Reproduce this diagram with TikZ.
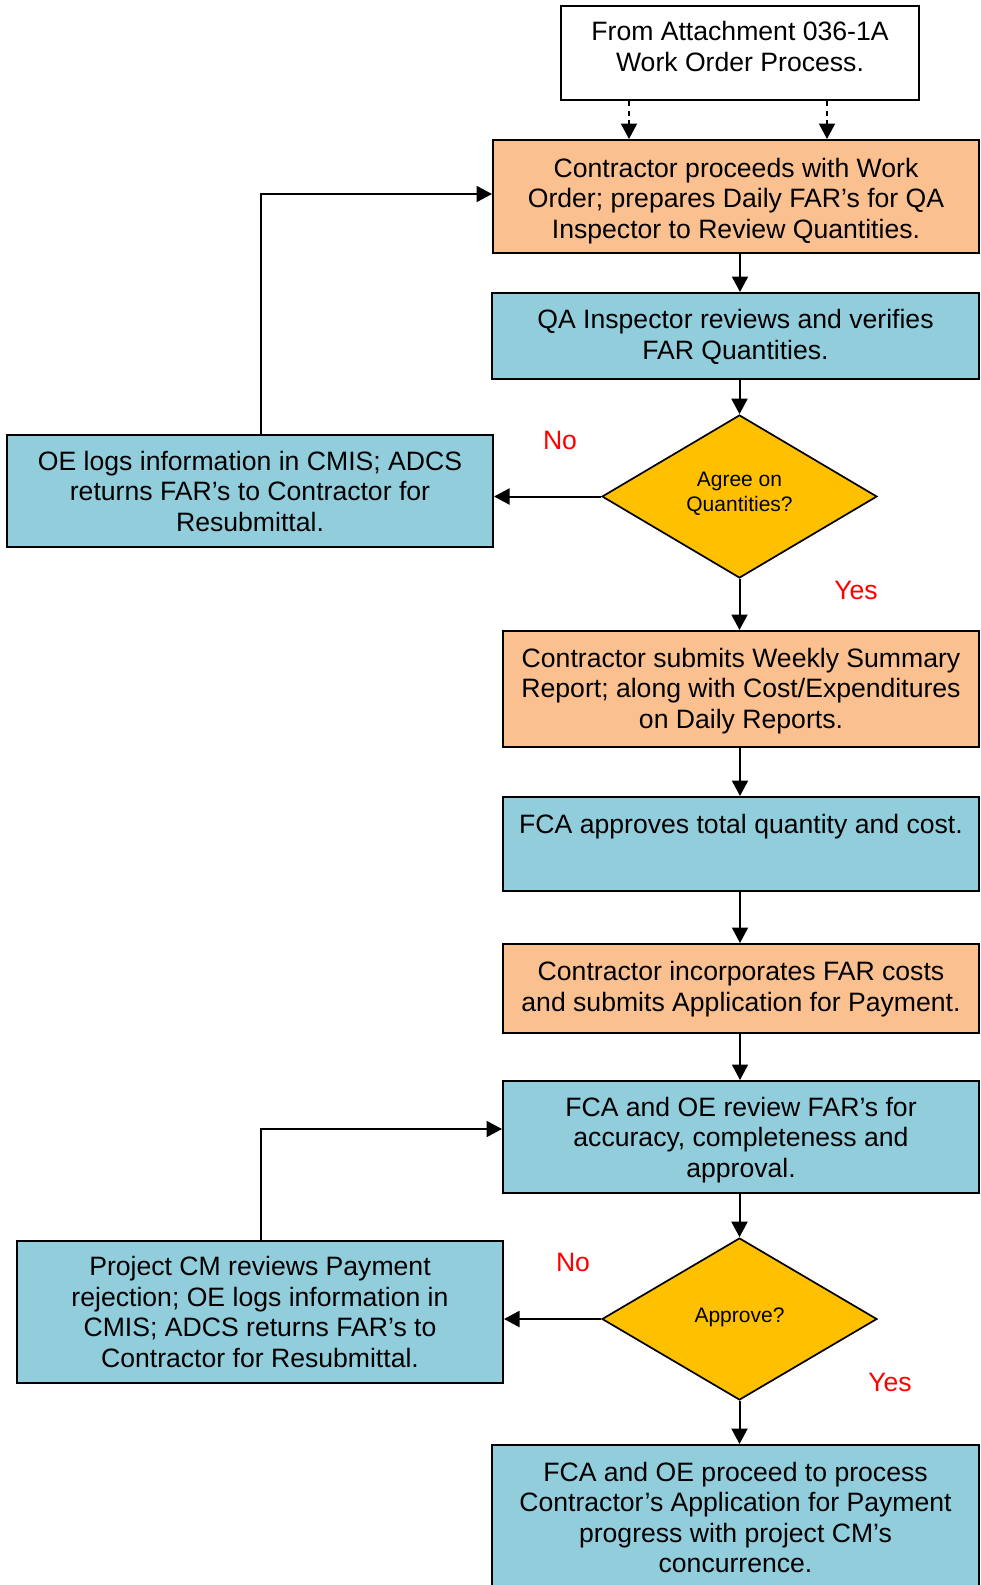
\documentclass[tikz,border=0pt]{standalone}
\usepackage{fontspec}
\setmainfont{Liberation Sans}
\usetikzlibrary{arrows.meta,shapes.geometric,calc}
\definecolor{peach}{HTML}{FAC090}
\definecolor{aqua}{HTML}{92CDDC}
\definecolor{gold}{HTML}{FFC000}
\begin{document}
\begin{tikzpicture}[x=1pt,y=-1pt,
  box/.style={draw=black, line width=2pt, rectangle, inner sep=0pt, align=center,
    font=\fontsize{26.6}{30.5}\selectfont},
  orangebox/.style={box, fill=peach},
  bluebox/.style={box, fill=aqua},
  decision/.style={draw=black, line width=1.7pt, diamond, fill=gold, inner sep=0pt,
    align=center, font=\fontsize{21}{25}\selectfont},
  answer/.style={inner sep=0pt, text=red, font=\fontsize{26.6}{30.5}\selectfont},
  conn/.style={line width=2pt, -{Triangle[length=15.5pt,width=16pt]}},
  dconn/.style={conn, dash pattern=on 5pt off 4.5pt}
]
\useasboundingbox (0,0) rectangle (981,1585);

% main column
\node[box, fill=white, minimum width=358pt, minimum height=94pt, text height=36pt, text depth=0pt]
  (top) at (740,53) {From Attachment 036-1A\\Work Order Process.};
\node[orangebox, minimum width=486pt, minimum height=113pt, text height=83pt, text depth=0pt]
  (b1) at (736,196.5) {Contractor proceeds with Work\\Order; prepares Daily FAR’s for QA\\Inspector to Review Quantities.};
\node[bluebox, minimum width=487pt, minimum height=86pt, text height=46pt, text depth=0pt]
  (b2) at (735.5,336) {QA Inspector reviews and verifies\\FAR Quantities.};
\node[decision, minimum width=275pt, minimum height=163pt, text height=30pt, text depth=0pt]
  (d1) at (739.5,496.5) {Agree on\\Quantities?};
\node[bluebox, minimum width=486pt, minimum height=112pt, text height=80pt, text depth=0pt]
  (oe1) at (250,491) {OE logs information in CMIS; ADCS\\returns FAR’s to Contractor for\\Resubmittal.};
\node[orangebox, minimum width=476pt, minimum height=116pt, text height=78pt, text depth=0pt]
  (b3) at (741,689) {Contractor submits Weekly Summary\\Report; along with Cost/Expenditures\\on Daily Reports.};
\node[bluebox, minimum width=476pt, minimum height=94pt, text height=0pt, text depth=22pt]
  (b4) at (741,844) {FCA approves total quantity and cost.};
\node[orangebox, minimum width=476pt, minimum height=89pt, text height=45pt, text depth=0pt]
  (b5) at (741,988.5) {Contractor incorporates FAR costs\\and submits Application for Payment.};
\node[bluebox, minimum width=476pt, minimum height=112pt, text height=80pt, text depth=0pt]
  (b6) at (741,1137) {FCA and OE review FAR’s for\\accuracy, completeness and\\approval.};
\node[decision, minimum width=275pt, minimum height=162pt, text height=7pt, text depth=0pt]
  (d2) at (739.5,1319) {Approve?};
\node[bluebox, minimum width=486pt, minimum height=142pt, text height=110pt, text depth=0pt]
  (oe2) at (260,1312) {Project CM reviews Payment\\rejection; OE logs information in\\CMIS; ADCS returns FAR’s to\\Contractor for Resubmittal.};
\node[bluebox, minimum width=487pt, minimum height=147pt, text height=108pt, text depth=0pt]
  (fin) at (735.5,1518.5) {FCA and OE proceed to process\\Contractor’s Application for Payment\\progress with project CM’s\\concurrence.};

% answer labels
\node[answer] (no1) at (560,440) {No};
\node[answer] (yes1) at (856,590) {Yes};
\node[answer] (no2) at (573,1262) {No};
\node[answer] (yes2) at (890,1382) {Yes};

% helper coordinates
\coordinate (dA) at (629,0);
\coordinate (dB) at (827,0);
\coordinate (col) at (740,0);
\coordinate (lx) at (261,0);

% connectors
\draw[dconn] (top.south -| dA) -- (b1.north -| dA);
\draw[dconn] (top.south -| dB) -- (b1.north -| dB);
\draw[conn] (b1.south -| col) -- (b2.north -| col);
\draw[conn] (b2.south -| d1.north) -- (d1.north);
\draw[conn] (d1.west) -- (oe1.east |- d1.west);
\draw[conn] (oe1.north -| lx) |- ([yshift=2.5pt]b1.west);
\draw[conn] (d1.south) -- (b3.north -| d1.south);
\draw[conn] (b3.south -| col) -- (b4.north -| col);
\draw[conn] (b4.south -| col) -- (b5.north -| col);
\draw[conn] (b5.south -| col) -- (b6.north -| col);
\draw[conn] (b6.south -| d2.north) -- (d2.north);
\draw[conn] (d2.west) -- (oe2.east |- d2.west);
\draw[conn] (oe2.north -| lx) |- ([yshift=8pt]b6.west);
\draw[conn] (d2.south) -- (fin.north -| d2.south);
\end{tikzpicture}
\end{document}
